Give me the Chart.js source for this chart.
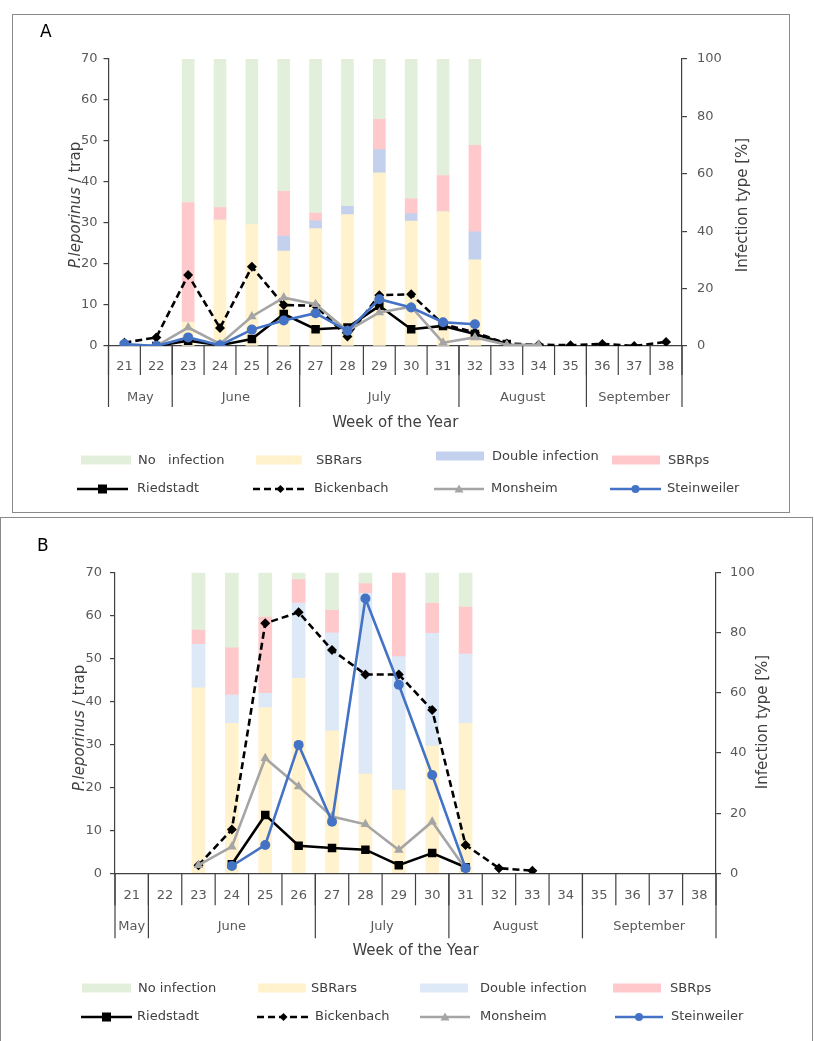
<!DOCTYPE html>
<html><head><meta charset="utf-8">
<script src="https://cdn.jsdelivr.net/npm/chart.js@4.4.0/dist/chart.umd.min.js"></script>
<style>
body{margin:0;background:#fff;width:814px;height:1041px;overflow:hidden;position:relative;font-family:"DejaVu Sans",sans-serif;}
.wrap{position:absolute;left:0;width:814px;}
.box{position:absolute;border:1px solid #8a8a8a;box-sizing:border-box;}
.lt{position:absolute;font-size:13px;color:#404040;white-space:pre;line-height:16px;transform:translateY(-50%);}
.sw{position:absolute;height:9px;transform:translateY(-50%);}
.gl{position:absolute;transform:translateY(-50%);}
</style></head><body>
<div class="box" style="left:12px;top:14px;width:778px;height:499px"></div>
<div class="box" style="left:0px;top:517px;width:813px;height:540px"></div>
<div class="wrap" style="top:0;height:515px"><canvas id="cA"></canvas></div>
<div class="wrap" style="top:515px;height:526px"><canvas id="cB"></canvas></div>
<div id="legend"></div>
<script>
// ---------------- DATA ----------------
const weeks = ['21','22','23','24','25','26','27','28','29','30','31','32','33','34','35','36','37','38'];
const monthsA = ['May','June','July','August','September'];
const monthWeeksA = [2,4,5,4,3];
const monthsB = ['May','June','July','August','September'];
const monthWeeksB = [1,5,4,4,4];
const barNamesA = ['No   infection','SBRars','Double infection','SBRps'];
const barNamesB = ['No infection','SBRars','Double infection','SBRps'];
const lineNames = ['Riedstadt','Bickenbach','Monsheim','Steinweiler'];

// Panel A – infection type [%]
const noInfA  = [null,null,50.0,51.8,57.6,46.1,53.7,51.3,21.0,48.7,40.6,30.1,null,null,null,null,null,null];
const sbrarsA = [null,null, 8.3,44.0,42.4,33.1,40.9,45.8,60.3,43.5,46.8,30.0,null,null,null,null,null,null];
const doubleA = [null,null, 0.0, 0.0, 0.0, 5.2, 2.7, 2.9, 8.1, 2.6, 0.0, 9.8,null,null,null,null,null,null];
const sbrpsA  = [null,null,41.7, 4.2, 0.0,15.6, 2.7, 0.0,10.6, 5.2,12.6,30.1,null,null,null,null,null,null];
// Panel A – P. leporinus / trap
const riedA  = [0.0,0.0,1.3,0.2,1.7,7.8,4.1,4.5,9.8,4.1,4.9,2.9,0.5,null,null,null,null,null];
const bickA  = [0.8,2.1,17.3,4.4,19.3,10.0,9.8,2.3,12.4,12.6,5.3,3.3,0.6,0.3,0.2,0.5,0.0,1.0];
const monA   = [0.0,0.0,4.5,0.5,7.2,11.8,10.2,3.7,8.2,9.6,0.8,2.1,0.3,0.3,null,null,null,null];
const steinA = [0.5,0.0,2.1,0.2,4.0,6.2,8.0,3.7,11.4,9.4,5.8,5.3,null,null,null,null,null,null];

// Panel B – infection type [%]
const noInfB  = [null,null,19.1,25.0,14.8, 2.3,12.5, 3.6, 0.0,10.2,11.4,null,null,null,null,null,null,null];
const sbrarsB = [null,null,61.7,49.9,55.1,64.9,47.4,33.0,27.7,42.3,49.9,null,null,null,null,null,null,null];
const doubleB = [null,null,14.5, 9.4, 4.8,25.0,32.6,60.1,44.4,37.5,23.0,null,null,null,null,null,null,null];
const sbrpsB  = [null,null, 4.7,15.7,25.3, 7.8, 7.5, 3.3,27.9,10.0,15.7,null,null,null,null,null,null,null];
// Panel B – P. leporinus / trap
const riedB  = [null,null,null,2.1,13.6,6.4,5.9,5.5,1.9,4.7,1.4,null,null,null,null,null,null,null];
const bickB  = [null,null,1.9,10.2,58.2,60.8,52.0,46.3,46.3,38.0,6.6,1.2,0.6,null,null,null,null,null];
const monB   = [null,null,1.9,6.2,26.8,20.2,13.2,11.4,5.4,12.0,1.0,null,null,null,null,null,null,null];
const steinB = [null,null,null,1.7,6.6,29.9,12.0,64.0,43.9,22.9,1.2,null,null,null,null,null,null,null];

// ---------------- STYLES ----------------
const FONT = '"DejaVu Sans", sans-serif';
const TICK = '#595959', AXIS = '#404040';
const colGreen = '#e2efda', colYellow = '#fff2cc', colPink = '#ffc9cc';
const colBlueA = '#c3d1ee', colBlueB = '#dde9f6';
const lineStyles = [
  {color:'#000000', dash:[], point:'rect', r:6},
  {color:'#000000', dash:[7,4], point:'rectRot', r:5},
  {color:'#a5a5a5', dash:[], point:'triangle', r:5.5},
  {color:'#4472c4', dash:[], point:'circle', r:5}
];

const decor = {
  id:'decor',
  afterDraw(chart, args, o){
    const {ctx, chartArea:ca} = chart;
    const x = chart.scales.x;
    const n = weeks.length;
    const bx = i => i===0 ? x.left : (i===n ? x.right : (x.getPixelForValue(i-1)+x.getPixelForValue(i))/2);
    const line = (x1,y1,x2,y2)=>{ctx.beginPath();ctx.moveTo(x1,y1);ctx.lineTo(x2,y2);ctx.stroke();};
    ctx.save();
    ctx.strokeStyle = AXIS; ctx.lineWidth = 1.2;
    for(let i=0;i<=n;i++) line(bx(i), ca.bottom, bx(i), ca.bottom+o.weekSep);
    const bounds=[0]; let c=0; o.spans.forEach(s=>{c+=s;bounds.push(c);});
    bounds.forEach(b=>line(bx(b), ca.bottom, bx(b), ca.bottom+o.monthSep));
    ctx.fillStyle = TICK; ctx.font = '13px '+FONT; ctx.textAlign='center'; ctx.textBaseline='middle';
    o.months.forEach((m,k)=>ctx.fillText(m,(bx(bounds[k])+bx(bounds[k+1]))/2, ca.bottom+o.monthY));
    ctx.fillStyle = AXIS; ctx.font = '15px '+FONT;
    ctx.fillText('Week of the Year', (ca.left+ca.right)/2, ca.bottom+o.titleY);
    // panel letter
    ctx.fillStyle='#000'; ctx.font='17px '+FONT; ctx.textAlign='left';
    ctx.fillText(o.letter, o.letterX, o.letterY);
    // left title (mixed italic)
    ctx.fillStyle = AXIS;
    const t1='P.leporinus', t2=' / trap';
    ctx.font='italic 15px '+FONT; const w1=ctx.measureText(t1).width;
    ctx.font='15px '+FONT; const w2=ctx.measureText(t2).width;
    ctx.save(); ctx.translate(o.lTitleX, o.lTitleY); ctx.rotate(-Math.PI/2);
    ctx.textAlign='left';
    ctx.font='italic 15px '+FONT; ctx.fillText(t1,-(w1+w2)/2,0);
    ctx.font='15px '+FONT; ctx.fillText(t2,-(w1+w2)/2+w1,0);
    ctx.restore();
    ctx.save(); ctx.translate(o.rTitleX, o.rTitleY); ctx.rotate(-Math.PI/2);
    ctx.textAlign='center'; ctx.font='15px '+FONT; ctx.fillText('Infection type [%]',0,0);
    ctx.restore();
    ctx.restore();
  }
};

function build(id, bars, lines, blueCol, pad, barW, dec, xPad, yPad, y1Pad){
  const barCols = [colYellow, blueCol, colPink, colGreen];
  const barData = [bars[1], bars[2], bars[3], bars[0]]; // bottom -> top
  const ds = [];
  lines.forEach((d,i)=>{
    const s=lineStyles[i];
    ds.push({type:'line', label:lineNames[i], data:d, yAxisID:'y', borderColor:s.color, backgroundColor:s.color,
      borderWidth:2.6, borderDash:s.dash, pointStyle:s.point, pointRadius:s.r, pointBorderWidth:0,
      pointBackgroundColor:s.color, tension:0, spanGaps:false, order:3-i});
  });
  barData.forEach((d,i)=>{
    ds.push({type:'bar', label:'b'+i, data:d, yAxisID:'y1', backgroundColor:barCols[i], borderWidth:0,
      barThickness:barW, stack:'s', order:10});
  });
  return new Chart(document.getElementById(id), {
    data:{labels:weeks, datasets:ds},
    options:{
      responsive:true, maintainAspectRatio:false, animation:false,
      layout:{padding:pad},
      plugins:{legend:{display:false}, tooltip:{enabled:false}, decor:dec},
      scales:{
        x:{type:'category', offset:true, stacked:true,
           grid:{display:false, drawTicks:false}, border:{display:true,color:AXIS,width:1.2},
           ticks:{font:{family:FONT,size:13}, color:TICK, padding:xPad, autoSkip:false, maxRotation:0},
           afterFit:s=>{s.height=60;}},
        y:{position:'left', min:0, max:70, stacked:false,
           ticks:{stepSize:10, font:{family:FONT,size:13}, color:TICK, padding:yPad},
           grid:{drawOnChartArea:false, tickLength:5, color:AXIS, lineWidth:1.2},
           border:{color:AXIS,width:1.2}, afterFit:s=>{s.width=50;}},
        y1:{position:'right', min:0, max:100, stacked:true,
           ticks:{stepSize:20, font:{family:FONT,size:13}, color:TICK, padding:y1Pad},
           grid:{drawOnChartArea:false, tickLength:5, color:AXIS, lineWidth:1.2},
           border:{color:AXIS,width:1.2}, afterFit:s=>{s.width=50;}}
      }
    },
    plugins:[decor]
  });
}

build('cA', [noInfA,sbrarsA,doubleA,sbrpsA], [riedA,bickA,monA,steinA], colBlueA,
  {left:58.5, right:82, top:59, bottom:109}, 12,
  {spans:monthWeeksA, months:monthsA, weekSep:29, monthSep:61, monthY:52, titleY:77,
   letter:'A', letterX:40, letterY:33, lTitleX:76, lTitleY:205, rTitleX:743, rTitleY:205}, 13, 6, 10);

build('cB', [noInfB,sbrarsB,doubleB,sbrpsB], [riedB,bickB,monB,steinB], colBlueB,
  {left:65, right:48, top:57.7, bottom:107.7}, 13,
  {spans:monthWeeksB, months:monthsB, weekSep:32, monthSep:65, monthY:53, titleY:78,
   letter:'B', letterX:37, letterY:32, lTitleX:80, lTitleY:213, rTitleX:763, rTitleY:207}, 15, 8, 9);

// ---------------- LEGENDS (HTML) ----------------
const L = document.getElementById('legend');
function add(html){ L.insertAdjacentHTML('beforeend', html); }
function glyph(s, w){
  const cy=7, cx=w/2; let m='';
  if(s.point==='rect') m=`<rect x="${cx-4.5}" y="${cy-4.5}" width="9" height="9" fill="${s.color}"/>`;
  else if(s.point==='rectRot') m=`<polygon points="${cx},${cy-4} ${cx+4},${cy} ${cx},${cy+4} ${cx-4},${cy}" fill="${s.color}"/>`;
  else if(s.point==='triangle') m=`<polygon points="${cx},${cy-4.5} ${cx+4.5},${cy+3.5} ${cx-4.5},${cy+3.5}" fill="${s.color}"/>`;
  else m=`<circle cx="${cx}" cy="${cy}" r="4" fill="${s.color}"/>`;
  const da = s.dash.length ? `stroke-dasharray="${s.dash.join(',')}"` : '';
  return `<svg width="${w}" height="14"><line x1="0" y1="7" x2="${w}" y2="7" stroke="${s.color}" stroke-width="2.5" ${da}/>${m}</svg>`;
}
function legend(names, blueCol, barPos, linePos){
  const cols=[colGreen,colYellow,blueCol,colPink];
  names.forEach((nm,i)=>{
    const p=barPos[i];
    add(`<div class="sw" style="left:${p[0]}px;top:${p[3]}px;width:${p[1]}px;background:${cols[i]}"></div>`);
    add(`<div class="lt" style="left:${p[2]}px;top:${p[3]}px">${nm}</div>`);
  });
  lineNames.forEach((nm,i)=>{
    const p=linePos[i];
    add(`<div class="gl" style="left:${p[0]}px;top:${p[3]}px;height:14px">${glyph(lineStyles[i],p[1])}</div>`);
    add(`<div class="lt" style="left:${p[2]}px;top:${p[3]}px">${nm}</div>`);
  });
}
legend(barNamesA, colBlueA,
  [[81,50,138,460],[256,46,316,460],[436,48,492,456],[612,48,668,460]],
  [[77,51,137,488],[253,55,314,488],[434,50,491,488],[610,51,667,488]]);
legend(barNamesB, colBlueB,
  [[82,49,138,988],[258,48,311,988],[420,48,480,988],[613,48,670,988]],
  [[81,51,137,1016],[257,53,315,1016],[420,50,480,1016],[615,48,671,1016]]);
</script>
</body></html>
